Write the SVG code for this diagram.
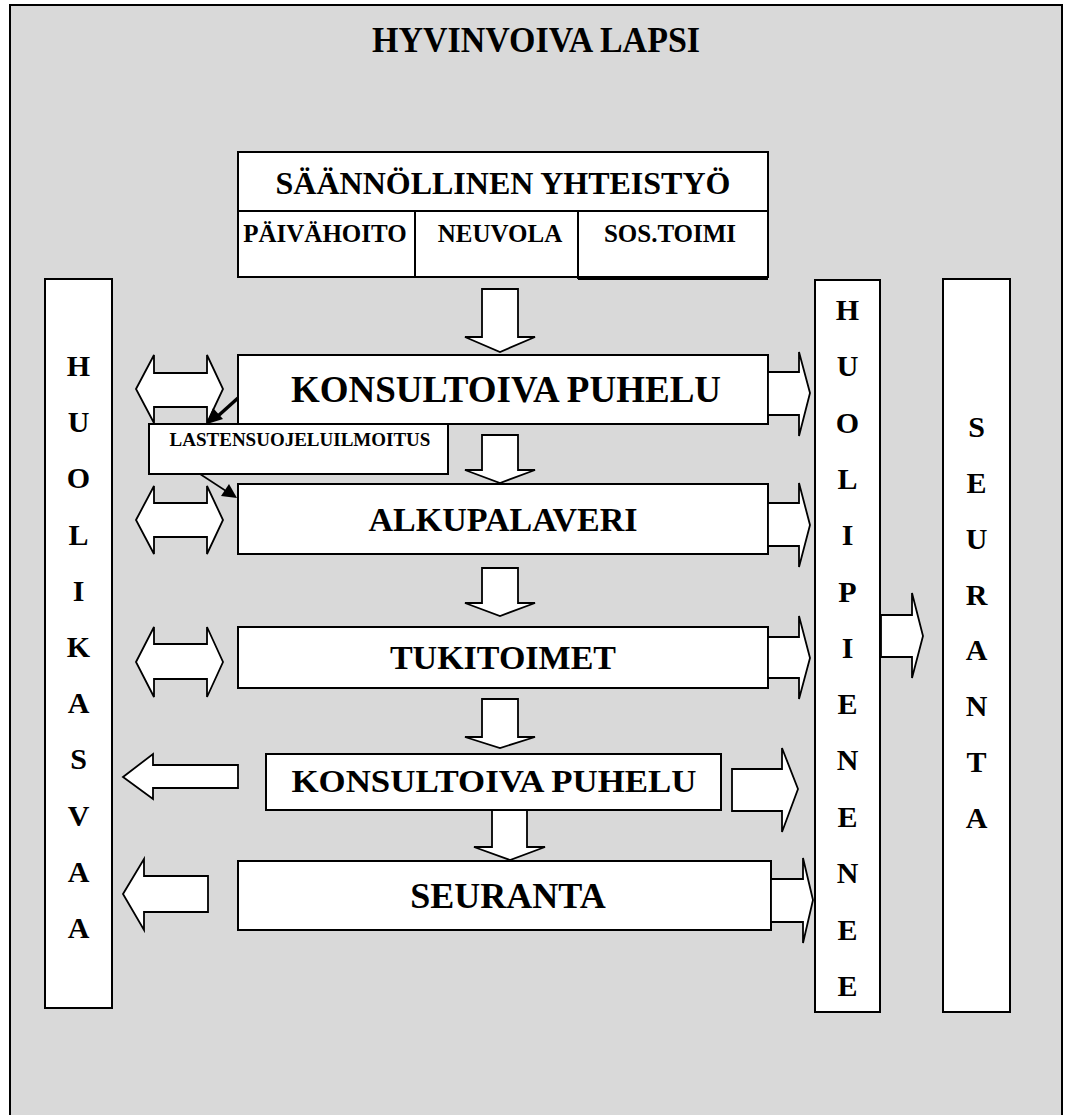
<svg xmlns="http://www.w3.org/2000/svg" width="1070" height="1115" viewBox="0 0 1070 1115">
<style>
.box{fill:#ffffff;stroke:#000;stroke-width:2}
.blk{fill:#ffffff;stroke:#000;stroke-width:1.8;stroke-linejoin:miter}
.t{font-family:"Liberation Serif","Times New Roman",serif;font-weight:bold;fill:#000;text-anchor:middle}
.v{font-family:"Liberation Serif","Times New Roman",serif;font-weight:bold;fill:#000;text-anchor:middle;font-size:30px}
</style>
<rect id="frame" x="10" y="5" width="1052" height="1120" fill="#d9d9d9" stroke="#000" stroke-width="2"/>
<text class="t" x="536" y="52" font-size="36" textLength="328" lengthAdjust="spacingAndGlyphs">HYVINVOIVA LAPSI</text>

<g id="yhteistyo">
<rect class="box" x="238" y="152" width="530" height="125"/>
<line x1="238" y1="211" x2="768" y2="211" stroke="#000" stroke-width="2"/>
<line x1="415" y1="211" x2="415" y2="277" stroke="#000" stroke-width="2"/>
<line x1="578" y1="211" x2="578" y2="279" stroke="#000" stroke-width="2"/>
<line x1="578" y1="279" x2="768" y2="279" stroke="#000" stroke-width="2"/>
<text class="t" x="503" y="194" font-size="32">SÄÄNNÖLLINEN YHTEISTYÖ</text>
<text class="t" x="325" y="242" font-size="25">PÄIVÄHOITO</text>
<text class="t" x="500" y="242" font-size="25">NEUVOLA</text>
<text class="t" x="670" y="242" font-size="25">SOS.TOIMI</text>
</g>

<g id="konsultoiva1">
<rect class="box" x="238" y="355" width="530" height="69"/>
<text class="t" x="506" y="402" font-size="37">KONSULTOIVA PUHELU</text>
</g>
<g id="lastensuojeluilmoitus">
<rect class="box" x="149" y="424" width="299" height="50"/>
<text class="t" x="300" y="446" font-size="19">LASTENSUOJELUILMOITUS</text>
</g>
<g id="alkupalaveri">
<rect class="box" x="238" y="484" width="530" height="70"/>
<text class="t" x="503" y="531" font-size="34">ALKUPALAVERI</text>
</g>
<g id="tukitoimet">
<rect class="box" x="238" y="627" width="530" height="61"/>
<text class="t" x="503" y="669" font-size="34">TUKITOIMET</text>
</g>
<g id="konsultoiva2">
<rect class="box" x="266" y="754" width="455" height="56"/>
<text class="t" x="494" y="792" font-size="31" textLength="405" lengthAdjust="spacingAndGlyphs">KONSULTOIVA PUHELU</text>
</g>
<g id="seuranta">
<rect class="box" x="238" y="861" width="533" height="69"/>
<text class="t" x="508" y="908" font-size="36">SEURANTA</text>
</g>

<g id="huolikasvaa">
<rect class="box" x="45" y="279" width="67" height="729"/>
<text class="v" x="78.5" y="376">H</text>
<text class="v" x="78.5" y="432">U</text>
<text class="v" x="78.5" y="488">O</text>
<text class="v" x="78.5" y="545">L</text>
<text class="v" x="78.5" y="601">I</text>
<text class="v" x="78.5" y="657">K</text>
<text class="v" x="78.5" y="713">A</text>
<text class="v" x="78.5" y="769">S</text>
<text class="v" x="78.5" y="826">V</text>
<text class="v" x="78.5" y="882">A</text>
<text class="v" x="78.5" y="938">A</text>
</g>

<g id="huolipienenee">
<rect class="box" x="815" y="280" width="65" height="732"/>
<text class="v" x="847.5" y="320">H</text>
<text class="v" x="847.5" y="376">U</text>
<text class="v" x="847.5" y="433">O</text>
<text class="v" x="847.5" y="489">L</text>
<text class="v" x="847.5" y="545">I</text>
<text class="v" x="847.5" y="602">P</text>
<text class="v" x="847.5" y="658">I</text>
<text class="v" x="847.5" y="714">E</text>
<text class="v" x="847.5" y="770">N</text>
<text class="v" x="847.5" y="827">E</text>
<text class="v" x="847.5" y="883">N</text>
<text class="v" x="847.5" y="940">E</text>
<text class="v" x="847.5" y="996">E</text>
</g>

<g id="seuranta-col">
<rect class="box" x="943" y="279" width="67" height="733"/>
<text class="v" x="976.5" y="437">S</text>
<text class="v" x="976.5" y="493">E</text>
<text class="v" x="976.5" y="549">U</text>
<text class="v" x="976.5" y="605">R</text>
<text class="v" x="976.5" y="660">A</text>
<text class="v" x="976.5" y="716">N</text>
<text class="v" x="976.5" y="772">T</text>
<text class="v" x="976.5" y="828">A</text>
</g>

<g id="connectors">
<polygon class="blk" points="482,289 518,289 518,337 535,337 500,352 465,337 482,337"/>
<polygon class="blk" points="482,435 518,435 518,470 535,470 500,483 465,470 482,470"/>
<polygon class="blk" points="482,568 518,568 518,603 535,603 500,616 465,603 482,603"/>
<polygon class="blk" points="482,699 518,699 518,737 535,737 500,748 465,737 482,737"/>
<polygon class="blk" points="492,810 527,810 527,847 545,847 510,860 474,847 492,847"/>
<polygon class="blk" points="136,389 154,355 154,373 207,373 207,355 223,389 207,423 207,407 154,407 154,423"/>
<polygon class="blk" points="136,520 154,486 154,503 207,503 207,486 223,520 207,554 207,537 154,537 154,554"/>
<polygon class="blk" points="136,662 154,627 154,644 207,644 207,627 223,662 207,697 207,679 154,679 154,697"/>
<polygon class="blk" points="123,777 153,754 153,765 238,765 238,788 153,788 153,799"/>
<polygon class="blk" points="123,894 144,859 144,876 208,876 208,912 144,912 144,930"/>
<polygon class="blk" points="768,372 799,372 799,352 810,393 799,436 799,415 768,415"/>
<polygon class="blk" points="768,503 799,503 799,483 810,525 799,567 799,546 768,546"/>
<polygon class="blk" points="768,637 799,637 799,616 810,658 799,699 799,678 768,678"/>
<polygon class="blk" points="732,769 782,769 782,748 798,789 782,832 782,811 732,811"/>
<polygon class="blk" points="771,879 803,879 803,858 813,900 803,943 803,922 771,922"/>
<polygon class="blk" points="881,615 912,615 912,593 923,636 912,678 912,657 881,657"/>
<line x1="238" y1="398" x2="218" y2="416" stroke="#000" stroke-width="3.5"/>
<polygon points="207,424 213,408 223,419" fill="#000"/>
<line x1="200" y1="474" x2="226" y2="491" stroke="#000" stroke-width="1.5"/>
<polygon points="237,498 221,496 229,484" fill="#000"/>
</g>
</svg>
